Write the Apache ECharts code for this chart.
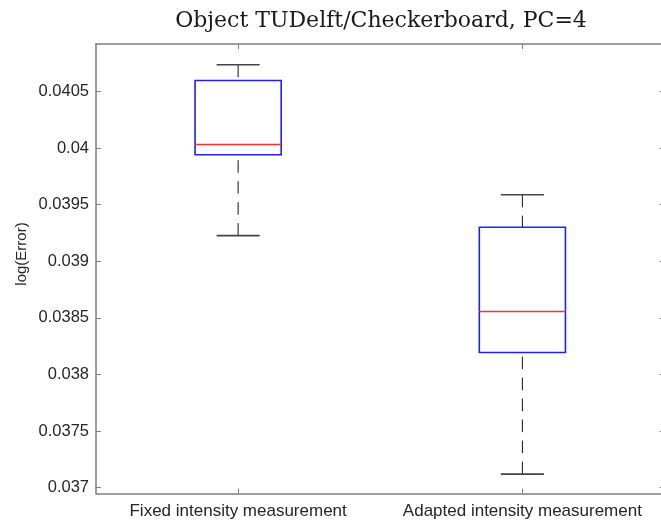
<!DOCTYPE html>
<html>
<head>
<meta charset="utf-8">
<script src="https://cdn.jsdelivr.net/npm/echarts@6/dist/echarts.min.js"></script>
<style>
  html, body { margin: 0; padding: 0; background: #fff; }
  #chart { width: 661px; height: 525px; }
</style>
</head>
<body>
<div id="chart"></div>
<script>
// ---- data ----
const categories = ['Fixed intensity measurement', 'Adapted intensity measurement'];
const whiskerLow  = [0.039226, 0.037120];
const quartile1   = [0.039941, 0.038194];
const medians     = [0.040032, 0.038556];
const quartile3   = [0.040597, 0.039300];
const whiskerHigh = [0.040736, 0.039588];
const yTickValues = [0.037, 0.0375, 0.038, 0.0385, 0.039, 0.0395, 0.04, 0.0405];
const yTickLabels = ['0.037', '0.0375', '0.038', '0.0385', '0.039', '0.0395', '0.04', '0.0405'];
const titleText = 'Object TUDelft/Checkerboard, PC=4';
const yLabelText = 'log(Error)';

const yMin = 0.0369487;
const yMax = 0.040919;

const axisColor = '#7f7f7f';
const textColor = '#262626';
const sansFont = 'Liberation Sans, Arial, sans-serif';

function fmtY(v) {
  for (let i = 0; i < yTickValues.length; i++) {
    if (Math.abs(yTickValues[i] - v) < 1e-9) return yTickLabels[i];
  }
  return '';
}

const seriesData = categories.map((c, i) => [i, whiskerLow[i], quartile1[i], medians[i], quartile3[i], whiskerHigh[i]]);

function renderItem(params, api) {
  const xi = api.value(0);
  const pLo = api.coord([xi, api.value(1)]);
  const pQ1 = api.coord([xi, api.value(2)]);
  const pMed = api.coord([xi, api.value(3)]);
  const pQ3 = api.coord([xi, api.value(4)]);
  const pHi = api.coord([xi, api.value(5)]);
  const cx = pMed[0];
  const bw = api.size([1, 0])[0] * 0.303;
  const cw = bw / 2;
  const dash = [12.5, 8.5];
  return {
    type: 'group',
    children: [
      { type: 'line', shape: { x1: cx, y1: pHi[1], x2: cx, y2: pQ3[1] },
        style: { stroke: '#111', lineWidth: 1, lineDash: dash } },
      { type: 'line', shape: { x1: cx, y1: pLo[1], x2: cx, y2: pQ1[1] },
        style: { stroke: '#111', lineWidth: 1, lineDash: dash } },
      { type: 'line', shape: { x1: cx - cw / 2, y1: pHi[1], x2: cx + cw / 2, y2: pHi[1] },
        style: { stroke: '#444', lineWidth: 1.6 } },
      { type: 'line', shape: { x1: cx - cw / 2, y1: pLo[1], x2: cx + cw / 2, y2: pLo[1] },
        style: { stroke: '#444', lineWidth: 1.6 } },
      { type: 'rect', shape: { x: cx - bw / 2, y: pQ3[1], width: bw, height: pQ1[1] - pQ3[1] },
        style: { fill: null, stroke: '#2020ff', lineWidth: 1.6 } },
      { type: 'line', shape: { x1: cx - bw / 2, y1: pMed[1], x2: cx + bw / 2, y2: pMed[1] },
        style: { stroke: '#ff3030', lineWidth: 1.5 } }
    ]
  };
}

const chart = echarts.init(document.getElementById('chart'), null, { renderer: 'canvas' });
const tickCommon = { show: true, inside: true, length: 5, lineStyle: { color: axisColor, width: 1 } };
chart.setOption({
  animation: false,
  backgroundColor: '#ffffff',
  title: {
    text: titleText,
    left: 376,
    top: 5,
    textAlign: 'center',
    textStyle: { fontFamily: 'DejaVu Serif, serif', fontWeight: 'normal', fontSize: 22, color: '#1a1a1a' }
  },
  grid: { left: 96, width: 568.5, top: 44, bottom: 31.5, containLabel: false, outerBoundsMode: 'none' },
  xAxis: [
    {
      type: 'category', data: categories, position: 'bottom', boundaryGap: true,
      axisLine: { show: true, lineStyle: { color: axisColor, width: 1.5 } },
      axisTick: Object.assign({ alignWithLabel: true, interval: 0 }, tickCommon),
      axisLabel: { color: textColor, fontFamily: sansFont, fontSize: 17, margin: 9, interval: 0 },
      splitLine: { show: false }
    },
    {
      type: 'category', data: categories, position: 'top', boundaryGap: true,
      axisLine: { show: true, lineStyle: { color: axisColor, width: 1.5 } },
      axisTick: Object.assign({ alignWithLabel: true, interval: 0 }, tickCommon),
      axisLabel: { show: false },
      splitLine: { show: false }
    }
  ],
  yAxis: [
    {
      type: 'value', position: 'left', min: yMin, max: yMax,
      axisLine: { show: true, lineStyle: { color: axisColor, width: 1.5 } },
      axisTick: Object.assign({ customValues: yTickValues }, tickCommon),
      axisLabel: { customValues: yTickValues, formatter: fmtY, color: textColor, fontFamily: sansFont, fontSize: 16.5, margin: 7 },
      splitLine: { show: false }
    },
    {
      type: 'value', position: 'right', min: yMin, max: yMax,
      axisLine: { show: true, lineStyle: { color: axisColor, width: 1.5 } },
      axisTick: Object.assign({ customValues: yTickValues }, tickCommon),
      axisLabel: { show: false },
      splitLine: { show: false }
    }
  ],
  graphic: [
    {
      type: 'text', x: 22, y: 254, rotation: Math.PI / 2,
      style: { text: yLabelText, fill: textColor, font: '15px Liberation Sans, Arial, sans-serif', align: 'center', verticalAlign: 'middle' }
    }
  ],
  series: [
    {
      type: 'custom', xAxisIndex: 0, yAxisIndex: 0,
      renderItem: renderItem,
      data: seriesData,
      encode: { x: 0, y: [1, 2, 3, 4, 5] },
      clip: false
    }
  ]
});
</script>
</body>
</html>
